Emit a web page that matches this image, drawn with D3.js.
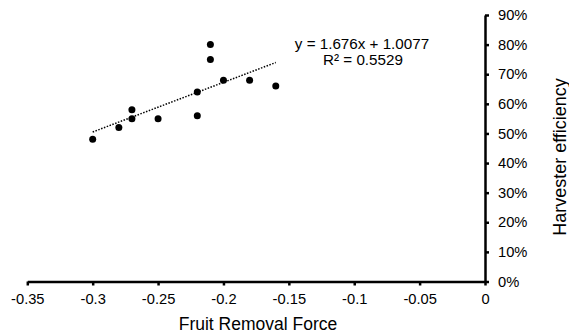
<!DOCTYPE html>
<html>
<head>
<meta charset="utf-8">
<script src="https://cdn.jsdelivr.net/npm/d3@7"></script>
<style>
  body { margin: 0; background: #fff; }
  text { font-family: "Liberation Sans", Arial, sans-serif; fill: #000; }
</style>
</head>
<body>
<svg id="chart"></svg>
<script>
// removal force vs. harvester efficiency
const force = [-0.30, -0.28, -0.27, -0.27, -0.25, -0.22, -0.22, -0.21, -0.21, -0.20, -0.18, -0.16];
const efficiency = [0.48, 0.52, 0.55, 0.58, 0.55, 0.56, 0.64, 0.75, 0.80, 0.68, 0.68, 0.66];
const xTicks = [-0.35, -0.3, -0.25, -0.2, -0.15, -0.1, -0.05, 0];
const yTicks = [0, 0.1, 0.2, 0.3, 0.4, 0.5, 0.6, 0.7, 0.8, 0.9];
const slope = 1.676;
const intercept = 1.0077;
const rSquared = 0.5529;

const width = 569, height = 333;
const margin = { top: 15, right: 84, bottom: 51.5, left: 27.3 };

const svg = d3.select("#chart").attr("width", width).attr("height", height);

const x = d3.scaleLinear().domain([-0.35, 0]).range([margin.left, width - margin.right]);
const y = d3.scaleLinear().domain([0, 0.9]).range([height - margin.bottom, margin.top]);

// x axis along the bottom
const xAxis = d3.axisBottom(x).tickValues(xTicks).tickSize(4).tickSizeOuter(0)
  .tickFormat(d => d === 0 ? "0" : String(+d.toFixed(2)));
const xg = svg.append("g").attr("transform", `translate(0,${y(0)})`).call(xAxis);

// y axis sits at x = 0, labels on the right
const yAxis = d3.axisRight(y).tickValues(yTicks).tickSize(4).tickSizeOuter(0)
  .tickFormat(d3.format(".0%"));
const yg = svg.append("g").attr("transform", `translate(${x(0)},0)`).call(yAxis);

[xg, yg].forEach(g => {
  g.select(".domain").attr("stroke", "#000").attr("stroke-width", 2.5);
  g.selectAll(".tick line").attr("stroke", "#000").attr("stroke-width", 2.5);
  g.selectAll(".tick text").attr("font-size", 14.7).attr("fill", "#000")
    .style("font-family", "'Liberation Sans', Arial, sans-serif");
});
xg.selectAll(".tick text").attr("y", 12);
yg.selectAll(".tick text").attr("x", 13);

// linear trendline over the data range
const xr = d3.extent(force);
svg.append("line")
  .attr("x1", x(xr[0])).attr("y1", y(slope * xr[0] + intercept))
  .attr("x2", x(xr[1])).attr("y2", y(slope * xr[1] + intercept))
  .attr("stroke", "#000").attr("stroke-width", 1.5)
  .attr("stroke-dasharray", "1.5,1.5");

svg.append("g").selectAll("circle")
  .data(force.map((f, i) => [f, efficiency[i]]))
  .join("circle")
  .attr("cx", d => x(d[0]))
  .attr("cy", d => y(d[1]))
  .attr("r", 3.5)
  .attr("fill", "#000");

// equation label
svg.append("text").attr("x", 362).attr("y", 49).attr("text-anchor", "middle")
  .attr("font-size", 15.2).text(`y = ${slope}x + ${intercept}`);
svg.append("text").attr("x", 363).attr("y", 65).attr("text-anchor", "middle")
  .attr("font-size", 15.2).text(`R² = ${rSquared}`);

// axis titles
svg.append("text").attr("x", 258).attr("y", 330).attr("text-anchor", "middle")
  .attr("font-size", 17.5).text("Fruit Removal Force");
svg.append("text")
  .attr("transform", `translate(566,157) rotate(-90)`)
  .attr("text-anchor", "middle").attr("font-size", 18).text("Harvester efficiency");
</script>
</body>
</html>
